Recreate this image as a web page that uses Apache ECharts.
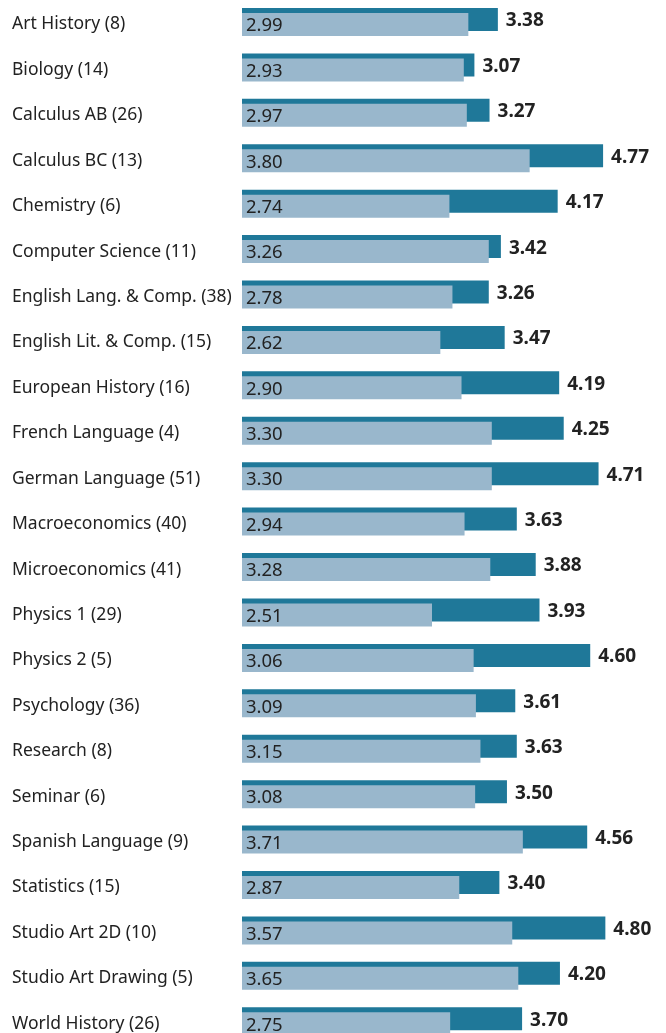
<!DOCTYPE html>
<html><head><meta charset="utf-8">
<script src="https://cdn.jsdelivr.net/npm/echarts@6/dist/echarts.min.js"></script>
<style>html,body{margin:0;padding:0;background:#fff}#c{width:666px;height:1033px}</style>
</head><body><div id="c"></div>
<script>
var categories = ["Art History (8)","Biology (14)","Calculus AB (26)","Calculus BC (13)","Chemistry (6)","Computer Science (11)","English Lang. & Comp. (38)","English Lit. & Comp. (15)","European History (16)","French Language (4)","German Language (51)","Macroeconomics (40)","Microeconomics (41)","Physics 1 (29)","Physics 2 (5)","Psychology (36)","Research (8)","Seminar (6)","Spanish Language (9)","Statistics (15)","Studio Art 2D (10)","Studio Art Drawing (5)","World History (26)"];
var lightValues = [2.99,2.93,2.97,3.80,2.74,3.26,2.78,2.62,2.90,3.30,3.30,2.94,3.28,2.51,3.06,3.09,3.15,3.08,3.71,2.87,3.57,3.65,2.75];
var darkValues = [3.38,3.07,3.27,4.77,4.17,3.42,3.26,3.47,4.19,4.25,4.71,3.63,3.88,3.93,4.60,3.61,3.63,3.50,4.56,3.40,4.80,4.20,3.70];

var FONT = 'Noto Sans';
var pitch = 45.42, n = categories.length;
var H = pitch * n;
var chart = echarts.init(document.getElementById('c'), null, {renderer:'canvas'});
var fmt = function(p){ return p.value.toFixed(2); };
chart.setOption({
  animation:false,
  grid:[
    {left:242, right:45.5, top:-3.21, height:H, containLabel:false, outerBoundsMode:'none'},
    {left:242, right:45.5, top:1.79, height:H, containLabel:false, outerBoundsMode:'none'}
  ],
  xAxis:[
    {gridIndex:0, type:'value', min:0, max:5, show:false},
    {gridIndex:1, type:'value', min:0, max:5, show:false}
  ],
  yAxis:[
    {gridIndex:0, type:'category', data:categories, inverse:true, show:false},
    {gridIndex:1, type:'category', data:categories, inverse:true,
     axisLine:{show:false}, axisTick:{show:false}, splitLine:{show:false},
     axisLabel:{align:'left', margin:230, fontFamily:FONT, fontSize:17.5, color:'#222', padding:[5,0,0,0]}}
  ],
  series:[
    {type:'bar', xAxisIndex:0, yAxisIndex:0, data:darkValues, barWidth:23,
     itemStyle:{color:'#1f7899'},
     label:{show:true, position:'right', distance:8, offset:[0,1.5], formatter:fmt, fontFamily:FONT, fontSize:19, fontWeight:'bold', color:'#222'}},
    {type:'bar', xAxisIndex:1, yAxisIndex:1, data:lightValues, barWidth:23,
     itemStyle:{color:'#99b7cc'},
     label:{show:true, position:'insideLeft', distance:4, offset:[0,1.5], formatter:fmt, fontFamily:FONT, fontSize:18.5, color:'#222'}}
  ]
});
</script></body></html>
